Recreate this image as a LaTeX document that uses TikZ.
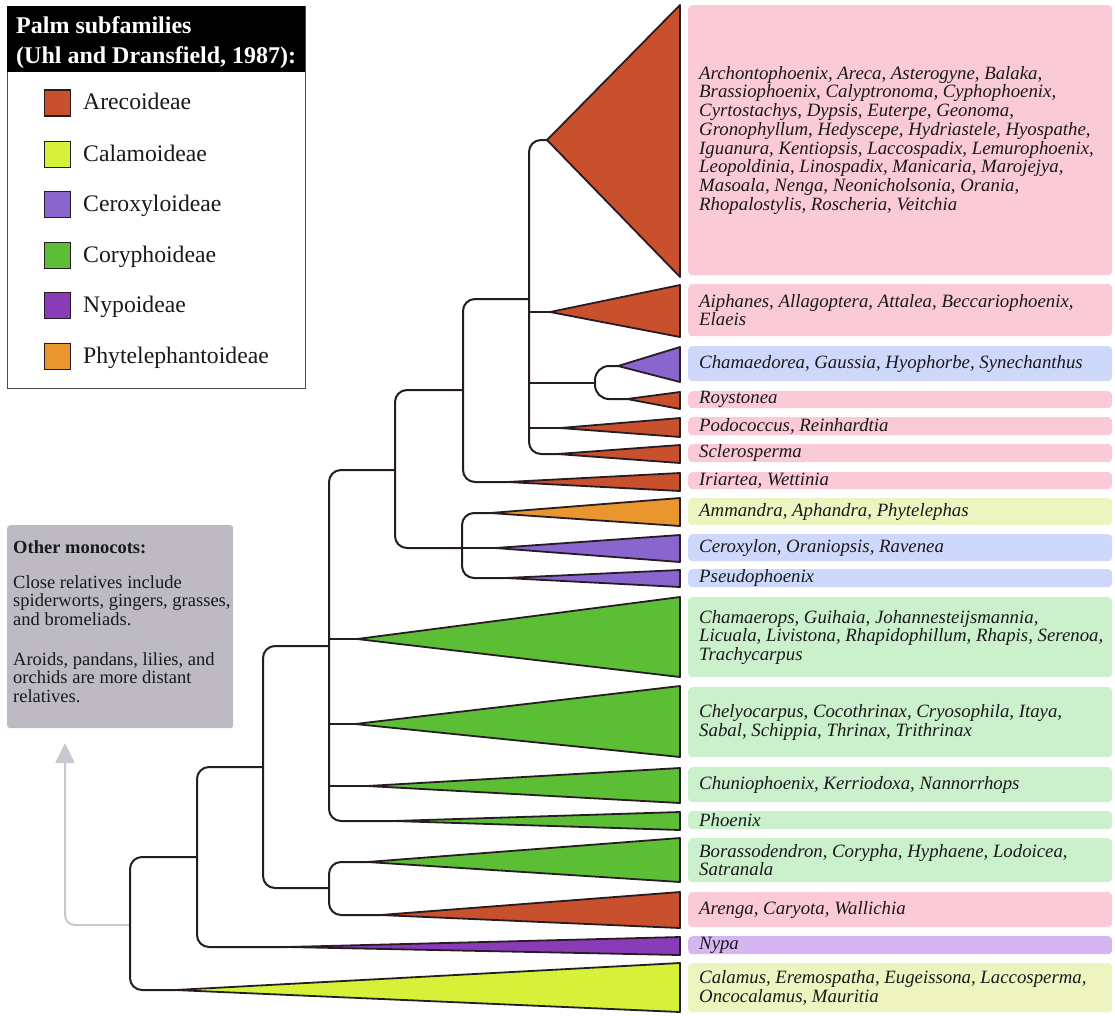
\documentclass[tikz,border=0pt]{standalone}
\usepackage{fontspec}
\setmainfont{Liberation Serif}
\usetikzlibrary{arrows.meta}
\definecolor{arec}{RGB}{200,80,45}
\definecolor{calam}{RGB}{214,242,56}
\definecolor{cerox}{RGB}{136,102,206}
\definecolor{coryph}{RGB}{92,190,52}
\definecolor{nypo}{RGB}{138,60,184}
\definecolor{phyt}{RGB}{234,150,46}
\definecolor{bgpink}{RGB}{250,202,214}
\definecolor{bgblue}{RGB}{206,216,250}
\definecolor{bggreen}{RGB}{202,240,204}
\definecolor{bgyellow}{RGB}{238,244,192}
\definecolor{bgpurple}{RGB}{214,182,240}
\definecolor{monogrey}{RGB}{190,186,196}
\definecolor{linecol}{RGB}{40,28,36}
\definecolor{arrowgrey}{RGB}{200,200,206}
\newcommand\lblfont{\fontsize{18.8}{18.7}\selectfont\itshape}
\newcommand\monofont{\fontsize{18.5}{18.8}\selectfont}
\newcommand\legfont{\fontsize{23.7}{28}\selectfont}
\newcommand\headfont{\fontsize{24}{30}\selectfont\bfseries}
\newcommand\taxbox[5]{%
  \node[lblbox, fill=#4, minimum height={#3-#2}, anchor=north west] (#1) at (688,#2) {};
  \node[lbltext, anchor=west] (#1-t) at ([xshift=11pt]#1.west) {#5};
}
\newcommand\legitem[4]{%
  \node[legsq, fill=#3] (#1) at (57.5,#2) {};
  \node[legtext, anchor=base west] (#1-t) at (83,{#2+6.5}) {#4};
}
\begin{document}
\begin{tikzpicture}[x=1pt,y=-1pt,
  branch/.style={draw=linecol, line width=2pt, rounded corners=12pt},
  tri/.style={draw=linecol, line width=1.8pt, line join=round},
  lblbox/.style={rectangle, rounded corners=4pt, minimum width=424, inner sep=0pt, draw=none},
  lbltext/.style={font=\lblfont, align=left, inner sep=0pt, text=black!90},
  legsq/.style={rectangle, draw=linecol, line width=1.5pt, minimum size=26, inner sep=0pt},
  legtext/.style={font=\legfont, inner sep=0pt, text=black!90},
  greyarrow/.style={draw=arrowgrey, line width=2pt, rounded corners=10pt, -{Triangle[width=19pt,length=20pt]}}
]
\useasboundingbox (0,0) rectangle (1115,1015);

% ---------- label boxes ----------
\taxbox{lTop}{5}{275}{bgpink}{Archontophoenix, Areca, Asterogyne, Balaka,\\Brassiophoenix, Calyptronoma, Cyphophoenix,\\Cyrtostachys, Dypsis, Euterpe, Geonoma,\\Gronophyllum, Hedyscepe, Hydriastele, Hyospathe,\\Iguanura, Kentiopsis, Laccospadix, Lemurophoenix,\\Leopoldinia, Linospadix, Manicaria, Marojejya,\\Masoala, Nenga, Neonicholsonia, Orania,\\Rhopalostylis, Roscheria, Veitchia}
\taxbox{lAiph}{284}{336}{bgpink}{Aiphanes, Allagoptera, Attalea, Beccariophoenix,\\Elaeis}
\taxbox{lChm}{346}{381}{bgblue}{Chamaedorea, Gaussia, Hyophorbe, Synechanthus}
\taxbox{lRoy}{391}{408}{bgpink}{Roystonea}
\taxbox{lPod}{417}{435}{bgpink}{Podococcus, Reinhardtia}
\taxbox{lScl}{444}{462}{bgpink}{Sclerosperma}
\taxbox{lIri}{472}{489}{bgpink}{Iriartea, Wettinia}
\taxbox{lAmm}{498}{525}{bgyellow}{Ammandra, Aphandra, Phytelephas}
\taxbox{lCer}{534}{561}{bgblue}{Ceroxylon, Oraniopsis, Ravenea}
\taxbox{lPse}{569}{587}{bgblue}{Pseudophoenix}
\taxbox{lCham}{597}{677}{bggreen}{Chamaerops, Guihaia, Johannesteijsmannia,\\Licuala, Livistona, Rhapidophillum, Rhapis, Serenoa,\\Trachycarpus}
\taxbox{lChel}{687}{757}{bggreen}{Chelyocarpus, Cocothrinax, Cryosophila, Itaya,\\Sabal, Schippia, Thrinax, Trithrinax}
\taxbox{lChun}{767}{802}{bggreen}{Chuniophoenix, Kerriodoxa, Nannorrhops}
\taxbox{lPho}{811}{829}{bggreen}{Phoenix}
\taxbox{lBor}{838}{882}{bggreen}{Borassodendron, Corypha, Hyphaene, Lodoicea,\\Satranala}
\taxbox{lAre}{892}{927}{bgpink}{Arenga, Caryota, Wallichia}
\taxbox{lNyp}{936}{954}{bgpurple}{Nypa}
\taxbox{lCal}{963}{1012}{bgyellow}{Calamus, Eremospatha, Eugeissona, Laccosperma,\\Oncocalamus, Mauritia}

% ---------- apex and node coordinates ----------
\coordinate (aTop) at (547,140);
\coordinate (aAiph) at (550,312);
\coordinate (aChm) at (618,366);
\coordinate (aRoy) at (627,399);
\coordinate (aPod) at (560,428);
\coordinate (aScl) at (557,454);
\coordinate (aIri) at (507,482);
\coordinate (aAmm) at (490,513);
\coordinate (aCer) at (495,548);
\coordinate (aPse) at (505,578);
\coordinate (aCham) at (357,639);
\coordinate (aChel) at (355,724);
\coordinate (aChun) at (367,786);
\coordinate (aPho) at (393,821);
\coordinate (aBor) at (367,862);
\coordinate (aAre) at (380,915);
\coordinate (aNyp) at (287,947);
\coordinate (aCal) at (175,990);

\coordinate (nArec) at (529,299);
\coordinate (nCha) at (595,383);
\coordinate (n463) at (463,390);
\coordinate (n395) at (395,470);
\coordinate (nCer) at (462,548);
\coordinate (n329) at (329,646);
\coordinate (n263) at (263,767);
\coordinate (nBor) at (329,888);
\coordinate (n197) at (197,857);
\coordinate (n130) at (130,925);
\coordinate (arrowTip) at (65,743);

% ---------- other monocots ----------
\node[rectangle, fill=monogrey, rounded corners=3pt, minimum width=226, minimum height=203, inner sep=0pt, anchor=north west] (mono) at (7,525) {};
\node[font=\monofont\bfseries, inner sep=0pt, anchor=base west, text=black!90] (monoT) at (13,553) {Other monocots:};
\node[font=\monofont, align=left, inner sep=0pt, anchor=north west, text=black!90] (monoP1) at (13,575) {Close relatives include\\spiderworts, gingers, grasses,\\and bromeliads.};
\node[font=\monofont, align=left, inner sep=0pt, anchor=north west, text=black!90] (monoP2) at (13,652) {Aroids, pandans, lilies, and\\orchids are more distant\\relatives.};
\draw[greyarrow] (n130) -| (arrowTip);

% ---------- triangles ----------
\draw[tri, fill=arec] (aTop) -- (680,5) -- (680,277) -- cycle;
\draw[tri, fill=arec] (aAiph) -- (680,285) -- (680,337) -- cycle;
\draw[tri, fill=cerox] (aChm) -- (680,347) -- (680,382) -- cycle;
\draw[tri, fill=arec] (aRoy) -- (680,392) -- (680,409) -- cycle;
\draw[tri, fill=arec] (aPod) -- (680,418) -- (680,437) -- cycle;
\draw[tri, fill=arec] (aScl) -- (680,445) -- (680,463) -- cycle;
\draw[tri, fill=arec] (aIri) -- (680,473) -- (680,491) -- cycle;
\draw[tri, fill=phyt] (aAmm) -- (680,498) -- (680,526) -- cycle;
\draw[tri, fill=cerox] (aCer) -- (680,535) -- (680,562) -- cycle;
\draw[tri, fill=cerox] (aPse) -- (680,570) -- (680,587) -- cycle;
\draw[tri, fill=coryph] (aCham) -- (680,597) -- (680,677) -- cycle;
\draw[tri, fill=coryph] (aChel) -- (680,686) -- (680,757) -- cycle;
\draw[tri, fill=coryph] (aChun) -- (680,768) -- (680,803) -- cycle;
\draw[tri, fill=coryph] (aPho) -- (680,812) -- (680,830) -- cycle;
\draw[tri, fill=coryph] (aBor) -- (680,838) -- (680,882) -- cycle;
\draw[tri, fill=arec] (aAre) -- (680,892) -- (680,928) -- cycle;
\draw[tri, fill=nypo] (aNyp) -- (680,937) -- (680,955) -- cycle;
\draw[tri, fill=calam] (aCal) -- (680,963) -- (680,1012) -- cycle;

% ---------- tree ----------
\draw[branch] (aTop) -| (nArec) |- (aScl);
\draw[branch] (nArec |- aAiph) -- (aAiph);
\draw[branch] (nArec |- nCha) -- (nCha);
\draw[branch] (nArec |- aPod) -- (aPod);
\draw[branch, rounded corners=14pt] (aChm) -| (nCha |- aRoy) -- (aRoy);
\draw[branch] (nArec) -| (n463) |- (aIri);
\draw[branch] (n463) -| (n395) |- (nCer);
\draw[branch] (aAmm) -| (nCer) |- (aPse);
\draw[branch] (nCer) -- (aCer);
\draw[branch] (n395) -| (n329) |- (aPho);
\draw[branch] (n329 |- aCham) -- (aCham);
\draw[branch] (n329 |- aChel) -- (aChel);
\draw[branch] (n329 |- aChun) -- (aChun);
\draw[branch] (n329) -| (n263) |- (nBor);
\draw[branch] (aBor) -| (nBor) |- (aAre);
\draw[branch] (n263) -| (n197) |- (aNyp);
\draw[branch] (n197) -| (n130) |- (aCal);

% ---------- legend ----------
\node[rectangle, draw=black!70, line width=1pt, fill=white, minimum width=298, minimum height=382, inner sep=0pt, anchor=north west] (legend) at (7,6) {};
\node[rectangle, fill=black, minimum width=298, minimum height=66, inner sep=0pt, anchor=north west] (leghead) at (7,6) {};
\node[font=\headfont, text=white, inner sep=0pt, anchor=base west] (legh1) at (16,33) {Palm subfamilies};
\node[font=\headfont, text=white, inner sep=0pt, anchor=base west] (legh2) at (16,63) {(Uhl and Dransfield, 1987):};
\legitem{kArec}{103}{arec}{Arecoideae}
\legitem{kCalam}{154.5}{calam}{Calamoideae}
\legitem{kCerox}{204.5}{cerox}{Ceroxyloideae}
\legitem{kCoryph}{255.5}{coryph}{Coryphoideae}
\legitem{kNypo}{305.5}{nypo}{Nypoideae}
\legitem{kPhyt}{356.5}{phyt}{Phytelephantoideae}
\end{tikzpicture}
\end{document}
